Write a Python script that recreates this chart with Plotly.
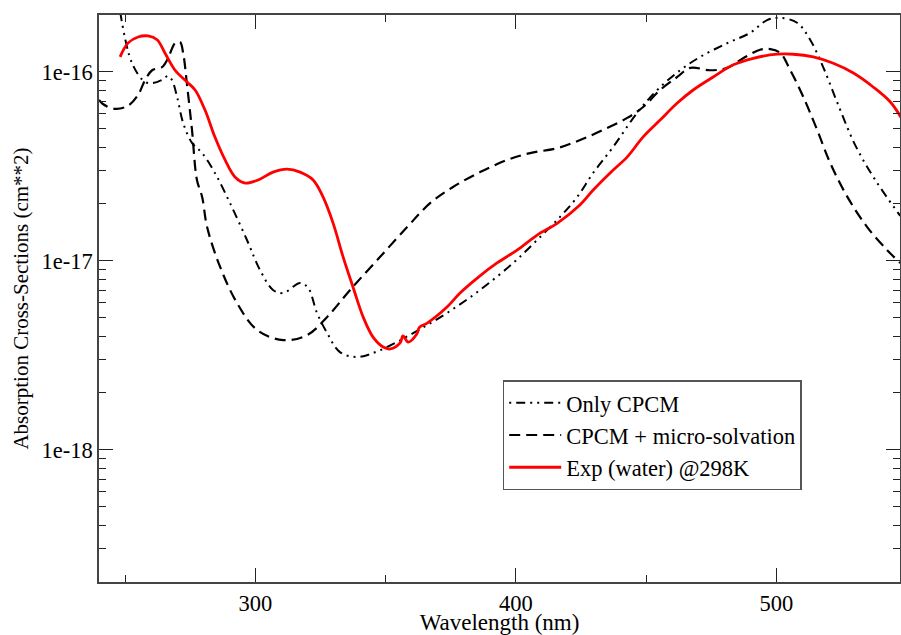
import plotly.graph_objects as go

# ---- Data ----
wl_cpcm = [247.7, 252.7, 257.7, 260.7, 264.2, 266.5, 268.0, 270.0, 272.3, 275.7, 279.6, 284.5,
           290.3, 296.8, 301.8, 306.8, 310.7, 317.2, 320.3, 323.7, 327.6, 332.5, 339.1, 347.9,
           360.6, 373.6, 386.3, 399.0, 408.2, 417.0, 423.6, 429.7, 437.4, 446.6, 454.3, 463.1,
           470.8, 481.2, 490.0, 496.5, 501.5, 508.0, 513.0, 518.0, 523.8, 530.3, 538.0, 547.6]
cs_cpcm = [2.26e-16, 1.11e-16, 8.84e-17, 8.73e-17, 9.06e-17, 9.51e-17, 9.06e-17, 7.36e-17, 5.37e-17,
           4.21e-17, 3.72e-17, 2.92e-17, 2.02e-17, 1.29e-17, 8.95e-18, 7.02e-18, 6.76e-18, 7.64e-18,
           7.19e-18, 5.30e-18, 4.15e-18, 3.29e-18, 3.10e-18, 3.37e-18, 4.15e-18, 5.30e-18, 7.02e-18,
           9.75e-18, 1.29e-17, 1.71e-17, 2.18e-17, 2.92e-17, 4.01e-17, 6.07e-17, 8.02e-17, 1.02e-16,
           1.20e-16, 1.42e-16, 1.61e-16, 1.88e-16, 1.93e-16, 1.82e-16, 1.48e-16, 1.06e-16, 6.68e-17,
           4.10e-17, 2.68e-17, 1.73e-17]

wl_micro = [240.0, 241.5, 246.1, 251.1, 255.0, 257.7, 260.4, 264.2, 266.5, 269.2, 271.1, 272.3,
            273.8, 275.7, 277.6, 279.6, 281.5, 286.5, 293.0, 300.7, 310.7, 319.9, 327.6, 336.4,
            346.8, 358.3, 367.1, 375.9, 386.3, 396.7, 405.5, 415.9, 424.7, 433.5, 442.8, 448.9,
            455.4, 462.0, 467.0, 474.6, 481.2, 487.3, 493.8, 497.7, 501.5, 505.4, 510.4, 515.7,
            520.7, 527.3, 534.9, 542.6, 547.6]
cs_micro = [7.10e-17, 6.76e-17, 6.37e-17, 6.61e-17, 7.55e-17, 9.06e-17, 1.02e-16, 1.06e-16, 1.18e-16,
            1.42e-16, 1.44e-16, 1.26e-16, 8.53e-17, 4.93e-17, 2.68e-17, 2.18e-17, 1.51e-17, 9.29e-18,
            5.98e-18, 4.31e-18, 3.81e-18, 4.05e-18, 5.05e-18, 7.02e-18, 1.01e-17, 1.51e-17, 2.02e-17,
            2.46e-17, 2.95e-17, 3.42e-17, 3.72e-17, 3.95e-17, 4.36e-17, 4.93e-17, 5.71e-17, 6.52e-17,
            8.02e-17, 9.40e-17, 1.05e-16, 1.02e-16, 1.05e-16, 1.18e-16, 1.31e-16, 1.32e-16, 1.26e-16,
            1.02e-16, 7.36e-17, 4.93e-17, 3.30e-17, 2.18e-17, 1.51e-17, 1.14e-17, 9.75e-18]

wl_exp = [248.1, 251.1, 255.0, 258.8, 262.3, 265.3, 269.2, 273.8, 276.9, 280.7, 284.5, 288.4, 292.2,
          296.1, 301.1, 306.8, 312.2, 317.2, 322.2, 326.0, 329.9, 333.7, 337.5, 341.4, 345.2, 349.1,
          351.8, 355.6, 356.7, 358.7, 362.0, 363.0, 366.0, 373.6, 378.6, 385.2, 392.8, 400.5, 408.2,
          415.9, 424.7, 429.7, 436.2, 442.8, 448.9, 455.4, 462.0, 468.1, 475.8, 483.5, 491.2, 500.4,
          506.5, 514.2, 521.9, 529.6, 537.2, 543.8, 548.0]
cs_exp = [1.20e-16, 1.42e-16, 1.53e-16, 1.55e-16, 1.48e-16, 1.26e-16, 1.02e-16, 8.84e-17, 8.02e-17,
          6.28e-17, 4.52e-17, 3.42e-17, 2.78e-17, 2.58e-17, 2.68e-17, 2.95e-17, 3.06e-17, 2.95e-17,
          2.68e-17, 2.18e-17, 1.58e-17, 1.05e-17, 7.28e-18, 5.05e-18, 3.95e-18, 3.50e-18, 3.42e-18,
          3.68e-18, 4.01e-18, 3.72e-18, 4.10e-18, 4.45e-18, 4.69e-18, 5.70e-18, 6.76e-18, 8.11e-18,
          9.75e-18, 1.14e-17, 1.37e-17, 1.58e-17, 1.98e-17, 2.37e-17, 2.92e-17, 3.55e-17, 4.53e-17,
          5.56e-17, 6.84e-17, 8.02e-17, 9.40e-17, 1.09e-16, 1.18e-16, 1.24e-16, 1.24e-16, 1.20e-16,
          1.11e-16, 9.86e-17, 8.32e-17, 6.93e-17, 5.71e-17]

series_names = ["Only CPCM", "CPCM + micro-solvation", "Exp (water) @298K"]
y_tickvals = [1e-19, 1e-18, 1e-17, 1e-16]
y_ticktext = ["1e-19", "1e-18", "1e-17", "1e-16"]
y_minor = [k * v for v in [1e-19, 1e-18, 1e-17, 1e-16] for k in range(2, 10)]

FONT = "Liberation Serif"
FS = 22.5

fig = go.Figure()
fig.add_trace(go.Scatter(x=wl_cpcm, y=cs_cpcm, mode="lines", name=series_names[0],
                         line=dict(color="black", width=2, shape="spline",
                                   dash="2px,5px,9px,5px,2px,5px")))
fig.add_trace(go.Scatter(x=wl_micro, y=cs_micro, mode="lines", name=series_names[1],
                         line=dict(color="black", width=2.2, shape="spline", dash="11px,6px")))
fig.add_trace(go.Scatter(x=wl_exp, y=cs_exp, mode="lines", name=series_names[2],
                         line=dict(color="#ff0000", width=2.8, shape="spline")))

fig.update_layout(
    width=901, height=635,
    margin=dict(l=99, r=1, t=15, b=53, autoexpand=False),
    paper_bgcolor="white", plot_bgcolor="white",
    font=dict(family=FONT, size=FS, color="black"),
    showlegend=True,
    legend=dict(x=0.504, y=0.356, xanchor="left", yanchor="top",
                bgcolor="white", bordercolor="#555555", borderwidth=1.5,
                font=dict(family=FONT, size=FS), tracegroupgap=0,
                itemwidth=52),
)
fig.update_xaxes(
    range=[240, 547.5], tick0=0, dtick=100,
    showline=True, linecolor="#444444", linewidth=1.5, mirror="ticks",
    ticks="inside", ticklen=14, tickwidth=1.2, tickcolor="#222222",
    showgrid=False, zeroline=False,
    minor=dict(dtick=50, tick0=0, ticks="inside", ticklen=7, tickwidth=1.2, tickcolor="#222222", showgrid=False),
    title=dict(text="Wavelength (nm)", standoff=3, font=dict(family=FONT, size=23)),
    tickfont=dict(family=FONT, size=FS),
)
fig.update_yaxes(
    type="log", range=[-18.699, -15.699],
    tickmode="array", tickvals=y_tickvals, ticktext=y_ticktext,
    showline=True, linecolor="#444444", linewidth=1.5, mirror="ticks",
    ticks="inside", ticklen=14, tickwidth=1.2, tickcolor="#222222",
    showgrid=False, zeroline=False,
    minor=dict(tickvals=y_minor, ticks="inside", ticklen=7, tickwidth=1.2, tickcolor="#222222", showgrid=False),
    title=dict(text="Absorption Cross-Sections (cm**2)", standoff=7, font=dict(family=FONT, size=21)),
    tickfont=dict(family=FONT, size=FS),
)

fig.write_html("out.html")
